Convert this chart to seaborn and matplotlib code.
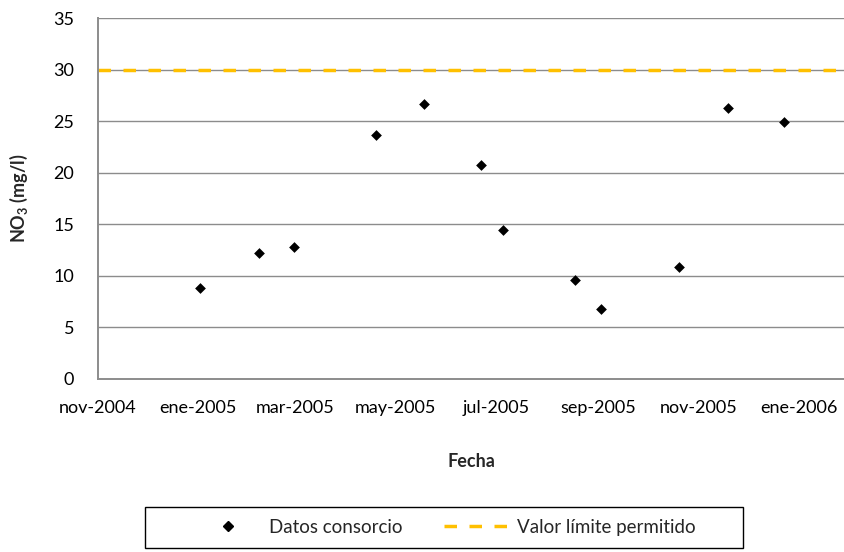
import pandas as pd
import seaborn as sns
import matplotlib.pyplot as plt
from matplotlib.patches import Rectangle
from matplotlib.lines import Line2D

# Values
fechas = ['2005-01-02', '2005-02-07', '2005-02-28', '2005-04-19', '2005-05-18', '2005-06-22',
          '2005-07-05', '2005-08-18', '2005-09-03', '2005-10-20', '2005-11-19', '2005-12-23']
no3 = [8.8, 12.2, 12.8, 23.7, 26.7, 20.8, 14.4, 9.6, 6.8, 10.8, 26.3, 24.9]
valor_limite = 30

tick_fechas = ['2004-11-01', '2005-01-01', '2005-03-01', '2005-05-01', '2005-07-01',
               '2005-09-01', '2005-11-01', '2006-01-01']
tick_labels = ['nov-2004', 'ene-2005', 'mar-2005', 'may-2005', 'jul-2005',
               'sep-2005', 'nov-2005', 'ene-2006']
y_ticks = [0, 5, 10, 15, 20, 25, 30, 35]

df = pd.DataFrame({'Fecha': pd.to_datetime(fechas), 'NO3': no3})

sns.set_style('white')
plt.rcParams['font.family'] = ['Lato', 'DejaVu Sans']
plt.rcParams['mathtext.fontset'] = 'custom'
plt.rcParams['mathtext.rm'] = 'Lato'
plt.rcParams['mathtext.bf'] = 'Lato:bold'

fs = 13
fig = plt.figure(figsize=(8.45, 5.52), dpi=100)
ax = fig.add_axes([97.7 / 845, 1 - 378.7 / 552, 1 - 97.7 / 845, (378.7 - 18.3) / 552])

grid_col = '#8c8c8c'
for v in y_ticks[1:]:
    ax.axhline(v, color=grid_col, lw=1.0, zorder=0)

ax.axhline(valor_limite, color='#FFC000', lw=2.5, linestyle=(0, (3.6, 3.6)),
           label='Valor límite permitido', zorder=2)

sns.scatterplot(data=df, x='Fecha', y='NO3', marker='D', s=30, color='black',
                edgecolor='black', linewidth=0, label='Datos consorcio', ax=ax, zorder=3)

ax.set_ylim(0, 35)
ax.set_xlim(pd.Timestamp('2004-11-01'), pd.Timestamp('2006-01-29'))
ax.set_yticks(y_ticks)
ax.set_yticklabels([str(v) for v in y_ticks], fontsize=fs)
ax.set_xticks(pd.to_datetime(tick_fechas))
ax.set_xticklabels(tick_labels, fontsize=fs)
ax.tick_params(axis='both', length=0, colors='black')
ax.tick_params(axis='x', pad=15)
ax.tick_params(axis='y', pad=17)

for side in ['top', 'right']:
    ax.spines[side].set_visible(False)
for side in ['left', 'bottom']:
    ax.spines[side].set_color(grid_col)
    ax.spines[side].set_linewidth(1.4)

ax.set_xlabel('Fecha', fontsize=fs, fontweight='bold')
ax.xaxis.set_label_coords((471 - 97.7) / (845 - 97.7), -(453 - 378.7) / (378.7 - 18.3))
ax.set_ylabel(r'NO$_\mathbf{3}$ (mg/l)', fontsize=fs, fontweight='bold')
ax.yaxis.set_label_coords(-(97.7 - 30) / (845 - 97.7), 0.5)

# Legend below the chart in a black box
handles = [Line2D([], [], marker='D', color='black', linestyle='none', markersize=5.4),
           Line2D([], [], color='#FFC000', lw=2.5, linestyle=(0, (3.6, 3.6)))]
leg = ax.legend(handles, ['Datos consorcio', 'Valor límite permitido'], ncol=2,
                frameon=False, fontsize=13.5, handlelength=3.4, handletextpad=0.5,
                columnspacing=2.2, loc='center',
                bbox_to_anchor=(446 / 845, 1 - 527.5 / 552), bbox_transform=fig.transFigure)
fig.patches.append(Rectangle((145 / 845, 1 - 548 / 552), (743 - 145) / 845, 41 / 552,
                             transform=fig.transFigure, fill=False, edgecolor='black', lw=1.0))

fig.savefig('out.png', dpi=100)
